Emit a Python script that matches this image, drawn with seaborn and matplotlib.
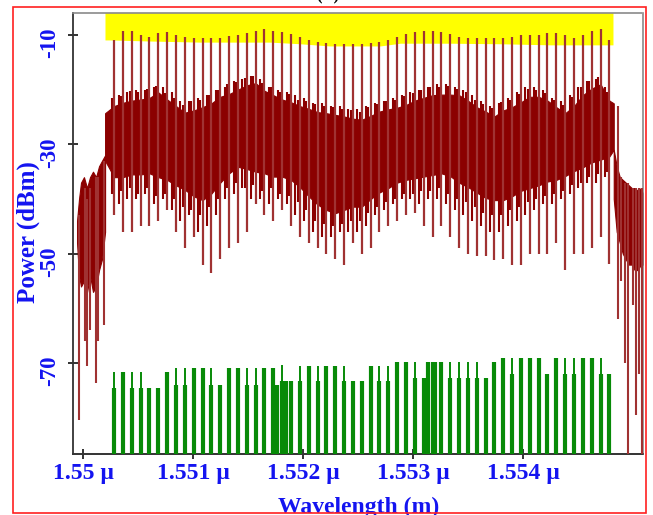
import numpy as np
import matplotlib
matplotlib.use("Agg")
import matplotlib.pyplot as plt
import matplotlib.transforms as mtransforms
from matplotlib.patches import Rectangle
import seaborn as sns

# ---------------- data ----------------
# channel grid (wavelength in micrometres)
channel_start_um = 1.55028
channel_step_um = 0.0000804
n_channels = 57
channel_wl = channel_start_um + channel_step_um * np.arange(n_channels)

peak_db = [-10.9, -9.2, -9.2, -10.0, -10.3, -9.7, -9.5, -10.0, -10.3, -10.5,
           -10.5, -10.5, -10.5, -10.2, -10.0, -9.7, -9.2, -8.9, -9.2, -9.5,
           -9.8, -10.3, -10.9, -11.2, -11.5, -11.7, -11.7, -11.7, -11.7, -11.5,
           -11.2, -10.9, -10.3, -9.8, -9.5, -9.2, -9.2, -9.5, -9.8, -10.3,
           -10.5, -10.5, -10.5, -10.5, -10.5, -10.3, -10.0, -10.0, -10.0, -9.7,
           -9.7, -10.0, -10.5, -10.0, -9.2, -8.9, -10.9]
band_top_db = [-23.0, -22.4, -22.0, -21.8, -21.5, -20.5, -21.8, -23.0, -24.2, -23.8,
               -23.2, -22.5, -21.3, -20.8, -20.0, -19.2, -18.8, -20.2, -21.0, -21.8,
               -22.3, -23.0, -23.5, -24.1, -24.3, -24.6, -24.9, -25.3, -25.5, -24.8,
               -24.0, -23.6, -23.3, -22.8, -22.0, -21.5, -21.0, -20.9, -20.9, -21.0,
               -22.0, -23.2, -24.0, -24.9, -23.8, -23.2, -22.3, -21.3, -21.3, -22.0,
               -23.2, -24.3, -23.0, -21.0, -19.8, -19.0, -22.0]
band_bot_db = [-36.0, -36.0, -35.5, -35.5, -35.3, -36.0, -36.5, -37.5, -38.3, -39.5,
               -40.2, -39.0, -37.0, -35.3, -34.1, -34.5, -35.0, -35.3, -35.9, -35.9,
               -36.5, -37.8, -39.5, -41.0, -42.0, -42.6, -42.0, -41.4, -41.4, -40.0,
               -38.8, -38.0, -37.0, -36.5, -36.2, -35.9, -35.6, -35.3, -35.8, -37.0,
               -37.8, -38.8, -39.8, -40.2, -40.2, -39.5, -38.5, -38.0, -37.5, -36.8,
               -36.5, -35.8, -34.9, -34.2, -33.3, -32.8, -32.2]
dip_db = [-43, -46, -46, -45, -45, -44, -42, -46, -49, -47,
          -52, -53.5, -51, -49, -48, -46, -41, -43, -44, -42,
          -45, -47, -48, -49, -50, -51, -52, -48, -50, -49,
          -46, -45, -44, -43, -42.6, -45, -47, -45, -47, -49,
          -50, -50.5, -50.5, -51.2, -51, -52, -52, -50, -50, -50,
          -48, -53, -50, -50, -49, -47, -51.8]
# spikes half way between channels
mid_hi_db = [-21, -20.5, -20, -20, -19.5, -19.5, -20.5, -22, -22, -21.5,
             -21, -20, -19.5, -18.5, -18, -17.5, -18, -19.5, -20, -20.5,
             -21, -21.5, -22.5, -22.5, -23, -23, -23.5, -23.5, -23, -22.5,
             -22, -21.5, -21, -20.5, -20, -19.5, -19, -19, -19.5, -20,
             -21, -22, -23, -22.5, -21.5, -20.5, -19.5, -19.5, -20, -21.5,
             -22, -21, -19.5, -18.5, -18, -19.5]
mid_lo_db = [-41, -40, -40, -39, -41, -40, -42, -44, -43, -46,
             -45, -43, -40, -39, -38, -40, -40, -41, -40, -41,
             -43, -44, -46, -47, -47, -46, -46, -46, -45, -43,
             -42, -41, -40, -40, -41, -40, -40, -41, -42, -43,
             -44, -45, -46, -46, -45, -44, -43, -42, -41, -41,
             -40, -39, -38, -37, -37, -36]
# spikes a quarter channel before each channel
inner_hi_db = [-21.5, -21.2, -20.2, -20.5, -19.8, -19.4, -20.6, -21.5, -22.8, -22.0,
               -21.8, -21.0, -20.0, -19.0, -18.6, -17.8, -17.5, -18.8, -19.6, -20.5,
               -20.8, -21.8, -22.0, -22.7, -23.0, -23.1, -23.6, -23.8, -24.0, -23.2,
               -22.6, -22.0, -21.9, -21.2, -20.6, -20.0, -19.6, -19.5, -19.3, -19.8,
               -20.5, -21.8, -22.6, -23.4, -22.2, -21.8, -20.8, -19.9, -20.0, -20.6,
               -21.8, -22.8, -21.4, -19.6, -18.4, -17.6, -20.5]
inner_lo_db = [-39, -38.5, -38, -39, -38, -39.5, -39, -40, -41.5, -42,
               -43, -41.5, -40, -38, -37, -38, -37.5, -38.5, -38, -39,
               -39.5, -40.5, -42, -44, -44.5, -45, -44.5, -44, -44, -42.5,
               -41.5, -40.5, -40, -39, -39, -38.5, -38.5, -38, -39, -40,
               -40.5, -41.5, -42.5, -43, -43, -42, -41.5, -40.5, -40, -39.5,
               -39, -38.5, -37.5, -37, -36, -35.5, -35]

band_edge_wl = [1.550198, 1.554822]
band_edge_top = [-24.3, -22.5]
band_edge_bot = [-33.0, -31.0]

left_floor_wl = [1.549943, 1.549961, 1.549979, 1.550006, 1.550034, 1.550061,
                 1.550088, 1.550116, 1.550143, 1.550170, 1.550198]
left_floor_top = [-44, -40, -37, -36, -38, -36, -35, -36, -34, -33, -32]
left_floor_bot = [-48, -54, -56, -55, -57, -54, -57, -56, -53, -51, -46]
left_spike_wl = [1.549961, 1.550015, 1.550038, 1.550061, 1.550116, 1.550134, 1.550188]
left_spike_top = [-43, -38, -40, -38, -36, -36, -33]
left_spike_bot = [-80.5, -66, -70.5, -64, -73.7, -66, -63]

right_floor_wl = [1.554822, 1.554849, 1.554877, 1.554904, 1.554931, 1.554959,
                  1.554986, 1.555013, 1.555040, 1.555068, 1.555088]
right_floor_top = [-31, -34, -36, -36.5, -37, -37.5, -38, -38, -38.5, -38, -39]
right_floor_bot = [-40, -46, -48, -50, -51, -52, -52, -53, -53, -52, -52]
right_spike_wl = [1.554858, 1.554886, 1.554922, 1.554949, 1.554995, 1.555022,
                  1.555049, 1.555077]
right_spike_top = [-23, -36, -37, -37, -38, -38, -38, -38]
right_spike_bot = [-62, -55, -70, -87, -59.4, -79.5, -72, -87]

green_hi_db = [-71.6, -71.6, -71.6, -71.6, -74.6, -74.6, -71.6, -71.0, -71.0, -71.0,
               -71.0, -71.0, -74.0, -71.0, -71.0, -71.0, -71.0, -71.0, -71.0, -70.4,
               -73.2, -70.5, -70.5, -70.5, -70.5, -70.5, -70.5, -73.2, -73.2, -70.5,
               -70.5, -70.5, -69.8, -69.8, -69.8, -72.8, -69.8, -69.8, -69.8, -69.8,
               -69.8, -69.8, -72.8, -69.8, -69.1, -69.1, -69.1, -69.1, -69.1, -72.0,
               -69.1, -69.1, -69.1, -69.1, -69.1, -69.1, -72.0]
green_lo_db = [-74.6, -71.6, -74.6, -74.6, -74.6, -74.6, -71.6, -74.0, -74.0, -71.0,
               -71.0, -74.0, -74.0, -71.0, -71.0, -74.0, -74.0, -71.0, -71.0, -73.2,
               -73.2, -73.2, -70.5, -73.2, -70.5, -70.5, -73.2, -73.2, -73.2, -70.5,
               -73.2, -73.2, -69.8, -69.8, -72.8, -72.8, -69.8, -69.8, -72.8, -72.8,
               -72.8, -72.8, -72.8, -69.8, -69.1, -72.0, -69.1, -69.1, -69.1, -72.0,
               -69.1, -72.0, -72.0, -69.1, -69.1, -72.0, -72.0]
green_extra_wl = [1.551759, 1.551845, 1.553129, 1.553201]
green_extra_db = [-74.0, -73.2, -69.8, -69.8]

yellow_wl = [1.550197, 1.55024, 1.55061, 1.55106, 1.55152, 1.5517, 1.55197,
             1.55224, 1.5527, 1.55288, 1.55334, 1.55379, 1.55425, 1.5547, 1.554815]
yellow_bot_db = [-10.9, -10.9, -11.1, -11.3, -11.3, -11.3, -11.6, -12.0, -12.0,
                 -11.5, -11.5, -11.6, -11.8, -11.8, -11.8]

x_ticks = [1.550, 1.551, 1.552, 1.553, 1.554]
x_tick_labels = ["1.55 µ", "1.551 µ", "1.552 µ", "1.553 µ", "1.554 µ"]
y_ticks = [-10, -30, -50, -70]
y_tick_labels = ["-10", "-30", "-50", "-70"]

# ---------------- styling ----------------
sns.set_theme(style="white")
plt.rcParams["font.family"] = ["Liberation Serif", "DejaVu Serif"]
plt.rcParams["font.weight"] = "bold"

DARK_RED = "#8b0000"
SPIKE_RED = "#a03232"
GREEN = "#078a07"
BLUE = "#1414f0"

fig = plt.figure(figsize=(6.53, 5.15), dpi=100)
ax = fig.add_axes([73.3 / 653, 1 - 454.3 / 515, (643 - 73.3) / 653, (454.3 - 12.5) / 515])
ax.set_xlim(1.549909, 1.555088)
ax.set_ylim(-86.7, -5.88)
ybot, ytop = ax.get_ylim()

# yellow highlight
ax.fill_between(yellow_wl, yellow_bot_db, ytop, color="#ffff00", lw=0, zorder=1)

# dense red band between channels
band_wl = np.concatenate([[band_edge_wl[0]], channel_wl, [band_edge_wl[1]]])
band_top = np.concatenate([[band_edge_top[0]], band_top_db, [band_edge_top[1]]])
band_bot = np.concatenate([[band_edge_bot[0]], band_bot_db, [band_edge_bot[1]]])
ax.fill_between(band_wl, band_bot, band_top, color=DARK_RED, lw=0.8, edgecolor=DARK_RED, zorder=2)

# edge noise floors
ax.fill_between(left_floor_wl, left_floor_bot, left_floor_top, color=DARK_RED, lw=0.8,
                edgecolor=DARK_RED, zorder=2)
ax.fill_between(right_floor_wl, right_floor_bot, right_floor_top, color=DARK_RED, lw=0.8,
                edgecolor=DARK_RED, zorder=2)

# in-band texture spikes
mid_wl = (channel_wl[:-1] + channel_wl[1:]) / 2
ax.vlines(mid_wl, mid_lo_db, mid_hi_db, color=DARK_RED, lw=1.5, zorder=3)
inner_wl = channel_wl - channel_step_um / 4
ax.vlines(inner_wl, inner_lo_db, inner_hi_db, color=DARK_RED, lw=1.5, zorder=3)

# channel spikes
ax.vlines(channel_wl, dip_db, peak_db, color=SPIKE_RED, lw=1.6, zorder=4)

# edge spikes
ax.vlines(left_spike_wl, left_spike_bot, left_spike_top, color=SPIKE_RED, lw=1.5, zorder=3)
ax.vlines(right_spike_wl, right_spike_bot, right_spike_top, color=SPIKE_RED, lw=1.5, zorder=3)

# green comb
ax.vlines(channel_wl, ybot, green_hi_db, color=GREEN, lw=1.4, zorder=3)
ax.vlines(channel_wl, ybot, green_lo_db, color=GREEN, lw=3.0, zorder=3)
ax.vlines(green_extra_wl, ybot, green_extra_db, color=GREEN, lw=3.0, zorder=3)

# axes / spines
for side in ["top", "right"]:
    ax.spines[side].set_linestyle((0, (1, 1)))
    ax.spines[side].set_color("#8a8a8a")
    ax.spines[side].set_linewidth(1.2)
ax.spines["bottom"].set_linestyle((0, (1, 1)))
ax.spines["bottom"].set_color("#333333")
ax.spines["bottom"].set_linewidth(1.4)
ax.spines["left"].set_color("#333333")
ax.spines["left"].set_linewidth(1.3)

ax.set_xticks(x_ticks)
ax.set_xticklabels(x_tick_labels)
ax.set_yticks(y_ticks)
ax.set_yticklabels(y_tick_labels, rotation=90, va="center")
ax.tick_params(axis="both", direction="inout", length=7.2, width=1.3, color="#222222",
               labelcolor=BLUE)
ax.tick_params(axis="x", labelsize=17, pad=3, bottom=True)
ax.tick_params(axis="y", labelsize=16.5, pad=6, left=True)
for lab in ax.get_xticklabels() + ax.get_yticklabels():
    lab.set_fontweight("bold")
offset = mtransforms.ScaledTranslation(0, -8 / 100, fig.dpi_scale_trans)
for lab in ax.get_yticklabels():
    lab.set_transform(lab.get_transform() + offset)

fig.text(28 / 653, 1 - 232 / 515, "Power (dBm)", rotation=90, ha="center", va="center",
         color=BLUE, fontsize=18, fontweight="bold")
fig.text(359 / 653, 1 - 513 / 515, "Wavelength (m)", ha="center", va="baseline",
         color=BLUE, fontsize=17, fontweight="bold")
fig.text(328 / 653, 1 - 4 / 515, "(A)", ha="center", va="bottom", color="black", fontsize=12)

fig.patches.append(Rectangle((13 / 653, 1 - 513 / 515), (646 - 13) / 653, (513 - 7) / 515,
                             transform=fig.transFigure, fill=False, edgecolor="#ff2020",
                             lw=1.2, zorder=10))

fig.savefig("out.png", dpi=100, facecolor="white")
